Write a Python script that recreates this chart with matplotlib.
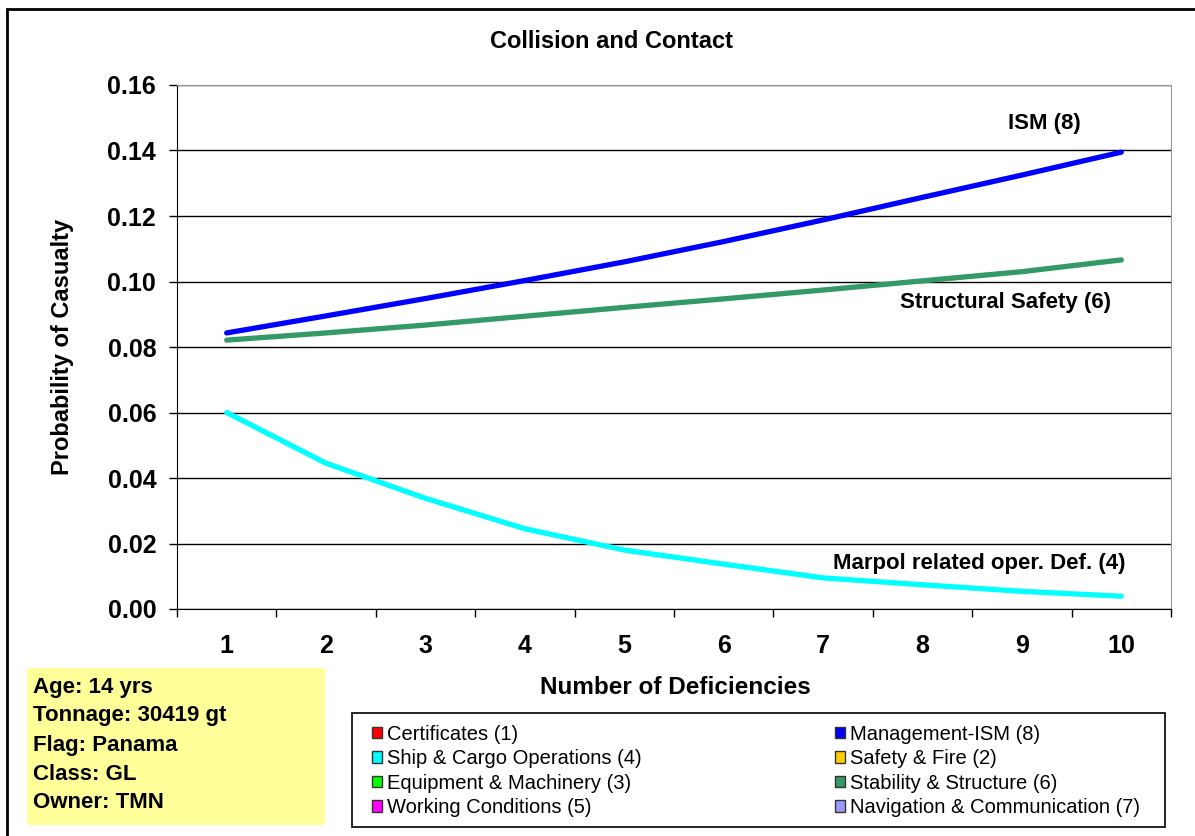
import numpy as np
import matplotlib
matplotlib.use("Agg")
import matplotlib.pyplot as plt
from matplotlib.patches import Patch, Rectangle

plt.rcParams['font.family'] = ['Liberation Sans', 'DejaVu Sans']

# data
deficiencies = [1, 2, 3, 4, 5, 6, 7, 8, 9, 10]
ism = [0.0843, 0.0895, 0.0948, 0.1003, 0.1060, 0.1122, 0.1188, 0.1257, 0.1325, 0.1395]
structural = [0.0821, 0.0843, 0.0867, 0.0894, 0.0921, 0.0947, 0.0974, 0.1002, 0.1030, 0.1066]
marpol = [0.0600, 0.0445, 0.0338, 0.0245, 0.0180, 0.0137, 0.0095, 0.0074, 0.0054, 0.0039]

legend_labels = ['Certificates (1)', 'Ship & Cargo Operations (4)', 'Equipment & Machinery (3)',
                 'Working Conditions (5)', 'Management-ISM (8)', 'Safety & Fire (2)',
                 'Stability & Structure (6)', 'Navigation & Communication (7)']
legend_colors = ['#FF0000', '#00FFFF', '#00FF00', '#FF00FF',
                 '#0000FF', '#FFCC00', '#339966', '#9999FF']

info_lines = ['Age: 14 yrs', 'Tonnage: 30419 gt', 'Flag: Panama', 'Class: GL', 'Owner: TMN']

W, H = 1195, 836
fig = plt.figure(figsize=(W / 100, H / 100), dpi=100)
ax = fig.add_axes([177 / W, 1 - 609 / H, (1171 - 177) / W, (609 - 85) / H])

ax.plot(deficiencies, ism, color='#0000FF', lw=3.8, solid_capstyle='round', zorder=3)
ax.plot(deficiencies, structural, color='#339966', lw=3.8, solid_capstyle='round', zorder=3)
ax.plot(deficiencies, marpol, color='#00FFFF', lw=3.8, solid_capstyle='round', zorder=3)

ax.set_xlim(0.5, 10.5)
ax.set_ylim(0, 0.16)
yt = np.arange(0, 0.161, 0.02)
ax.set_yticks(yt)
ax.set_yticklabels(['%.2f' % v for v in yt])
ax.set_xticks(deficiencies)
ax.set_xticks(np.arange(0.5, 10.6, 1), minor=True)
ax.tick_params(axis='x', which='major', length=0, pad=18, labelsize=18)
ax.tick_params(axis='x', which='minor', length=6, direction='out', width=1)
ax.tick_params(axis='y', length=6, direction='out', width=1, labelsize=18, pad=9)
for lab in ax.get_xticklabels() + ax.get_yticklabels():
    lab.set_fontweight('bold')
ax.grid(axis='y', color='black', lw=1)
ax.set_axisbelow(True)
ax.spines['top'].set_color('#999999')
ax.spines['right'].set_color('#999999')

fig.text(612 / W, 1 - 42 / H, 'Collision and Contact', fontsize=17, fontweight='bold',
         ha='center', va='center')
fig.text(63 / W, 1 - 347 / H, 'Probability of Casualty', fontsize=17, fontweight='bold',
         ha='center', va='center', rotation=90)
fig.text(675 / W, 1 - 687 / H, 'Number of Deficiencies', fontsize=17.5, fontweight='bold',
         ha='center', va='center')

ax.text(9.23, 0.1481, 'ISM (8)', fontsize=16, fontweight='bold', ha='center', va='center')
ax.text(8.84, 0.0937, 'Structural Safety (6)', fontsize=16, fontweight='bold', ha='center', va='center')
ax.text(8.57, 0.0140, 'Marpol related oper. Def. (4)', fontsize=16, fontweight='bold',
        ha='center', va='center')

# legend: frame drawn separately, entries spread across it
fig.add_artist(Rectangle((352 / W, 1 - 827 / H), (1165 - 352) / W, (827 - 713) / H,
                         transform=fig.transFigure, facecolor='white', edgecolor='black', lw=1.2))
handles = [Patch(facecolor=c, edgecolor='#333333', lw=1) for c in legend_colors]
leg = fig.legend(handles, legend_labels, ncol=2, loc='center',
                 bbox_to_anchor=(372 / W, 1 - 820 / H, (1140 - 372) / W, (820 - 722) / H),
                 mode='expand', borderaxespad=0, borderpad=0, frameon=False,
                 prop={'size': 14.5},
                 handlelength=0.5, handleheight=0.5, handletextpad=0.25,
                 labelspacing=0.27)

# yellow info box
fig.add_artist(Rectangle((27 / W, 1 - 825 / H), (325 - 27) / W, (825 - 668) / H,
                         transform=fig.transFigure, facecolor='#FFFF99', edgecolor='none'))
for i, line in enumerate(info_lines):
    fig.text(33 / W, 1 - (687 + 29 * i) / H, line, fontsize=16, fontweight='bold',
             va='center', ha='left')

# outer chart border (right and bottom edges fall outside the picture)
fig.add_artist(Rectangle((7 / W, -0.1), 1.1, 1.1 - 9 / H, transform=fig.transFigure,
                         facecolor='none', edgecolor='black', lw=2))

fig.savefig('out.png', dpi=100)
